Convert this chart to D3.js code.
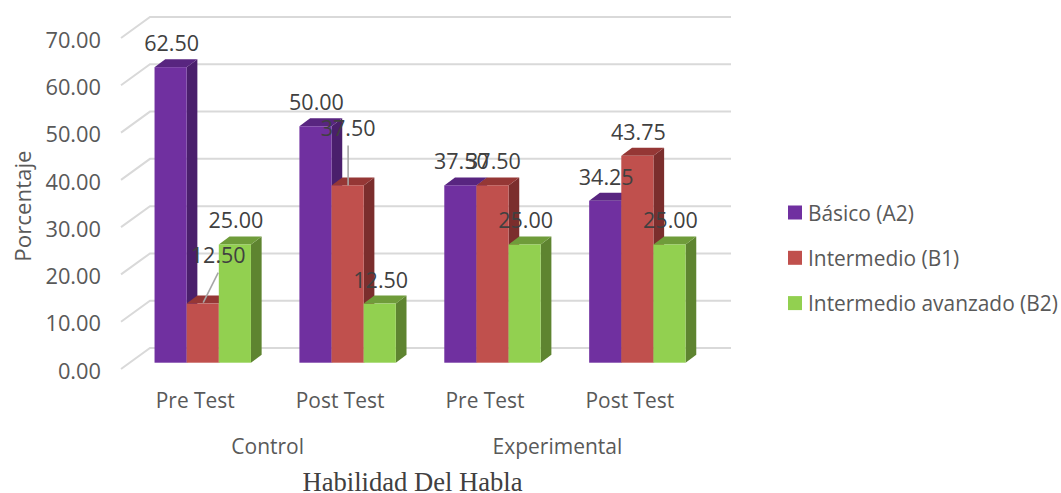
<!DOCTYPE html>
<html>
<head>
<meta charset="utf-8">
<script src="https://cdn.jsdelivr.net/npm/d3@7"></script>
<style>
  body { margin: 0; background: #fff; }
  text { font-family: "Open Sans", sans-serif; }
</style>
</head>
<body>
<div id="chart"></div>
<script>
// Datos
var categories = ["Pre Test", "Post Test", "Pre Test", "Post Test"];
var groups = ["Control", "Experimental"];
var series = ["Básico (A2)", "Intermedio (B1)", "Intermedio avanzado (B2)"];
var basico = [62.50, 50.00, 37.50, 34.25];
var intermedio = [12.50, 37.50, 37.50, 43.75];
var avanzado = [25.00, 12.50, 25.00, 25.00];

var width = 1061, height = 493;
var values = [basico, intermedio, avanzado];

// Colores: frente, lado, tapa
var colors = ["#7030a0", "#c0504d", "#92d050"];
var sideColors = ["#4a1f6c", "#7b2e2d", "#5e8430"];
var topColors = ["#582580", "#953735", "#6f9c3a"];

// Profundidad 3D
var depthX = 10.7, depthY = 8;      // bar depth
var wallX = 29, wallY = 21;         // floor depth to the back wall
var baseX = 121;                    // front edge of the floor
var wallEnd = 731;

var svg = d3.select("#chart").append("svg")
    .attr("width", width)
    .attr("height", height);

var y = d3.scaleLinear().domain([0, 70]).range([369, 38]);
var barLift = 6.3; // bars stand in the middle of the floor

var x0 = d3.scaleBand().domain(d3.range(categories.length)).range([130.3, 709.8]);
var x1 = d3.scaleBand().domain(d3.range(series.length)).range([-48.2, 48.2]);

// Rejilla
var ticks = y.ticks(7);
svg.append("g").selectAll("path")
    .data(ticks)
    .join("path")
    .attr("d", d => `M${baseX},${y(d)}L${baseX + wallX},${y(d) - wallY}L${wallEnd},${y(d) - wallY}`)
    .attr("fill", "none")
    .attr("stroke", "#d9d9d9")
    .attr("stroke-width", 2);

// Eje Y
var yAxis = svg.append("g")
    .attr("transform", `translate(${baseX},0)`)
    .call(d3.axisLeft(y).tickValues(ticks).tickFormat(d3.format(".2f")).tickSize(0).tickPadding(20));
yAxis.select(".domain").remove();
yAxis.selectAll("text")
    .attr("dy", "0.42em")
    .attr("fill", "#595959")
    .style("font-size", "21.8px")
    .style("font-family", '"Open Sans", sans-serif');

svg.append("text")
    .attr("transform", "translate(22,206) rotate(-90)")
    .attr("text-anchor", "middle")
    .attr("dominant-baseline", "central")
    .attr("font-size", 22.3)
    .attr("fill", "#595959")
    .text("Porcentaje");

// Barras
var barX = (c, s) => x0(c) + x0.bandwidth() / 2 + x1(s);
var barTop = v => y(v) - barLift;
var barBase = y(0) - barLift;
var w = x1.bandwidth();

categories.forEach(function (cat, c) {
    var g = svg.append("g").attr("class", "bars");
    series.forEach(function (name, s) {
        var bx = barX(c, s), ty = barTop(values[s][c]);
        // lado
        g.append("path")
            .attr("d", `M${bx + w},${ty}L${bx + w + depthX},${ty - depthY}L${bx + w + depthX},${barBase - depthY}L${bx + w},${barBase}Z`)
            .attr("fill", sideColors[s]);
        // tapa
        g.append("path")
            .attr("d", `M${bx},${ty}L${bx + depthX},${ty - depthY}L${bx + w + depthX},${ty - depthY}L${bx + w},${ty}Z`)
            .attr("fill", topColors[s]);
        // frente
        g.append("rect")
            .attr("x", bx)
            .attr("y", ty)
            .attr("width", w)
            .attr("height", barBase - ty)
            .attr("fill", colors[s]);
    });
});

// Etiquetas movidas a mano en el original: "categoria-serie": [dx, dy]
var movedLabels = { "0-1": [15.5, -49], "1-1": [0.5, -58] };

// Lineas guia
var leaders = [[0, 1, [15.5, -31], [0.5, -1]], [1, 1, [0.5, -40], [0.5, 0]]];
svg.append("g").selectAll("line")
    .data(leaders)
    .join("line")
    .attr("x1", d => barX(d[0], d[1]) + w / 2 + d[2][0])
    .attr("y1", d => barTop(values[d[1]][d[0]]) + d[2][1])
    .attr("x2", d => barX(d[0], d[1]) + w / 2 + d[3][0])
    .attr("y2", d => barTop(values[d[1]][d[0]]) + d[3][1])
    .attr("stroke", "#a6a6a6")
    .attr("stroke-width", 1.6);

// Etiquetas de datos
var labelG = svg.append("g");
categories.forEach(function (cat, c) {
    series.forEach(function (name, s) {
        var off = movedLabels[c + "-" + s] || [1, -24.5];
        labelG.append("text")
            .attr("x", barX(c, s) + w / 2 + off[0])
            .attr("y", barTop(values[s][c]) + off[1])
            .attr("text-anchor", "middle")
            .attr("dominant-baseline", "central")
            .attr("font-size", 21.5)
            .attr("fill", "#404040")
            .text(values[s][c].toFixed(2));
    });
});

// Categorias
svg.append("g").selectAll("text")
    .data(categories)
    .join("text")
    .attr("x", (d, i) => x0(i) + x0.bandwidth() / 2 - 7.5)
    .attr("y", 400)
    .attr("text-anchor", "middle")
    .attr("dominant-baseline", "central")
    .attr("font-size", 20.9)
    .attr("fill", "#595959")
    .text(d => d);

// Grupos
svg.append("g").selectAll("text")
    .data(groups)
    .join("text")
    .attr("x", (d, i) => (x0(i * 2) + x0(i * 2 + 1) + x0.bandwidth()) / 2 - 7.5)
    .attr("y", 446)
    .attr("text-anchor", "middle")
    .attr("dominant-baseline", "central")
    .attr("font-size", 21)
    .attr("fill", "#595959")
    .text(d => d);

// Titulo eje X
svg.append("text")
    .attr("x", 412.5)
    .attr("y", 482)
    .attr("text-anchor", "middle")
    .attr("dominant-baseline", "central")
    .style("font-family", '"Liberation Serif", serif')
    .attr("font-size", 26.6)
    .attr("fill", "#404040")
    .text("Habilidad Del Habla");

// Leyenda
var legend = svg.append("g").selectAll("g")
    .data(series)
    .join("g")
    .attr("transform", (d, i) => `translate(788,${212.5 + i * 45.3})`);
legend.append("rect")
    .attr("y", -7)
    .attr("width", 14)
    .attr("height", 14)
    .attr("fill", (d, i) => colors[i]);
legend.append("text")
    .attr("x", 20)
    .attr("dominant-baseline", "central")
    .attr("font-size", 20.9)
    .attr("fill", "#595959")
    .text(d => d);
</script>
</body>
</html>
